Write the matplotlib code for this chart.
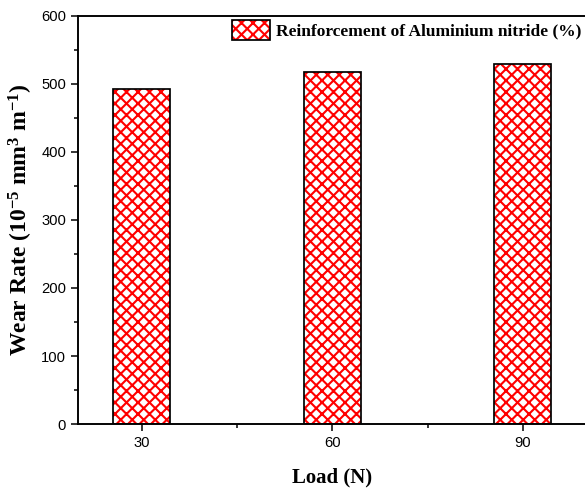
import matplotlib
matplotlib.use('Agg')
import matplotlib.pyplot as plt
from matplotlib.ticker import MultipleLocator
from matplotlib.patches import Patch

loads = [30, 60, 90]
wear_rate = [492, 518, 529]
legend_label = 'Reinforcement of Aluminium nitride (%)'

plt.rcParams['font.family'] = ['Liberation Sans', 'DejaVu Sans']
plt.rcParams['mathtext.fontset'] = 'custom'
plt.rcParams['mathtext.rm'] = 'Liberation Serif:bold'
plt.rcParams['mathtext.it'] = 'Liberation Serif:bold'
plt.rcParams['mathtext.bf'] = 'Liberation Serif:bold'
plt.rcParams['mathtext.default'] = 'rm'
plt.rcParams['hatch.linewidth'] = 1.1

dpi = 138
fig = plt.figure(figsize=(585 / dpi, 488 / dpi), dpi=dpi)
ax = fig.add_axes([78.3 / 585, 1 - 424 / 488, 508 / 585, 408 / 488])

# hatched fill (red) and black outline drawn as two layers
ax.bar(loads, wear_rate, width=9, color='white', edgecolor='red',
       hatch='xxxx', linewidth=0, zorder=2)
ax.bar(loads, wear_rate, width=9, color='none', edgecolor='black',
       linewidth=0.9, zorder=3)

ax.set_xlim(20, 100)
ax.set_ylim(0, 600)
ax.set_xticks(loads)
ax.xaxis.set_minor_locator(MultipleLocator(15))
ax.yaxis.set_major_locator(MultipleLocator(100))
ax.yaxis.set_minor_locator(MultipleLocator(50))
ax.tick_params(which='major', direction='out', length=3.8, width=0.8,
               labelsize=7.7, pad=2.5)
ax.tick_params(which='minor', direction='out', length=2, width=0.8)
ax.tick_params(top=False, right=False)
ax.spines['right'].set_visible(False)
for s in ['left', 'bottom', 'top']:
    ax.spines[s].set_linewidth(1.0)

ax.set_xlabel('Load (N)', family='Liberation Serif', weight='bold',
              size=10.8, labelpad=9)
ax.set_ylabel('Wear Rate (10$^{-5}$ mm$^{3}$ m$^{-1}$)',
              family='Liberation Serif', weight='bold', size=12.3, va='center')
ax.yaxis.set_label_coords((21 - 78.3) / 508, 0.5)

h_fill = Patch(facecolor='white', edgecolor='red', hatch='xxxx', linewidth=0)
h_edge = Patch(facecolor='none', edgecolor='black', linewidth=0.9)
fig.legend([(h_fill, h_edge)], [legend_label], loc='upper left',
           bbox_to_anchor=(232 / 585, 1 - 20 / 488), frameon=False,
           borderpad=0, borderaxespad=0, handlelength=2.2,
           handleheight=1.35, handletextpad=0.3,
           prop=dict(family='Liberation Serif', weight='bold', size=9.1))

fig.savefig('out.png', dpi=dpi)
